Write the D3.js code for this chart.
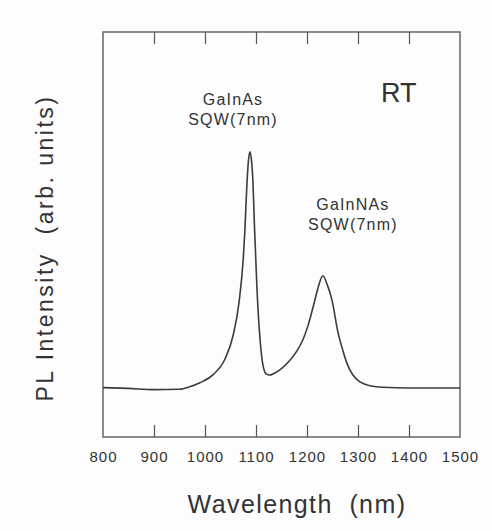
<!DOCTYPE html>
<html>
<head>
<meta charset="utf-8">
<script src="https://cdn.jsdelivr.net/npm/d3@7"></script>
<style>
  html, body { margin: 0; padding: 0; background: #fcfdfc; }
  svg { display: block; }
  text { font-family: "Liberation Sans", Arial, Helvetica, sans-serif; fill: #333; white-space: pre; }
</style>
</head>
<body>
<script>
// ---- data ----
const wavelength = [800, 850, 900, 950, 970, 990, 1016, 1039, 1055, 1067, 1075, 1078, 1082, 1085, 1088, 1091, 1094, 1097, 1102, 1108, 1114, 1120, 1127, 1135, 1150, 1167, 1180, 1192, 1202, 1212, 1222, 1231, 1240, 1249, 1261, 1270, 1278, 1290, 1304, 1320, 1349, 1400, 1450, 1500];
const intensity  = [12.2, 12.0, 11.7, 11.8, 12.4, 13.4, 15.4, 19.2, 25.0, 33.5, 44.0, 50.5, 62.0, 68.0, 70.4, 68.5, 63.0, 52.0, 36.3, 24.0, 17.5, 15.6, 15.3, 15.7, 16.9, 19.0, 21.2, 24.0, 27.5, 32.1, 37.0, 39.8, 37.5, 33.8, 25.7, 21.5, 18.3, 15.3, 13.6, 12.8, 12.3, 12.1, 12.1, 12.1];
const xTicks = [800, 900, 1000, 1100, 1200, 1300, 1400, 1500];
const innerTicks = [900, 1000, 1100, 1200, 1300, 1400];
const peakLabels = [
  { lines: ["GaInAs", "SQW(7nm)"], wl: 1055, y: 82 },
  { lines: ["GaInNAs", "SQW(7nm)"], wl: 1290, y: 56 }
];

const W = 492, H = 531;
const m = { left: 103, right: 32, top: 32, bottom: 94 };
const pw = W - m.left - m.right, ph = H - m.top - m.bottom;

const svg = d3.select("body").append("svg").attr("width", W).attr("height", H);
const g = svg.append("g").attr("transform", `translate(${m.left},${m.top})`);

const x = d3.scaleLinear().domain([800, 1500]).range([0, pw]);
const y = d3.scaleLinear().domain([0, 100]).range([ph, 0]);

// frame
g.append("rect").attr("width", pw).attr("height", ph)
  .attr("fill", "none").attr("stroke", "#666").attr("stroke-width", 1.5);

// bottom axis: inward ticks + labels
const bottomAxis = g.append("g").attr("transform", `translate(0,${ph})`)
  .call(d3.axisBottom(x).tickValues(innerTicks).tickSizeInner(-12).tickSizeOuter(0).tickFormat(""));
bottomAxis.select(".domain").remove();
bottomAxis.selectAll(".tick line").attr("stroke", "#555").attr("stroke-width", 1.2);

const labs = g.append("g").attr("transform", `translate(0,${ph})`)
  .call(d3.axisBottom(x).tickValues(xTicks).tickSize(0).tickFormat(d3.format("d")));
labs.select(".domain").remove();
labs.selectAll(".tick text").attr("y", 25).attr("dy", 0)
  .style("font-size", "15px").style("letter-spacing", "1px").style("fill", "#333");

// top axis: inward ticks
const topAxis = g.append("g")
  .call(d3.axisTop(x).tickValues(innerTicks).tickSizeInner(-12).tickSizeOuter(0).tickFormat(""));
topAxis.select(".domain").remove();
topAxis.selectAll(".tick line").attr("stroke", "#555").attr("stroke-width", 1.2);

// curve
const data = wavelength.map((w, i) => ({ w, v: intensity[i] }));
g.append("path").datum(data)
  .attr("fill", "none").attr("stroke", "#3c3c3c").attr("stroke-width", 1.6)
  .attr("d", d3.line().x(d => x(d.w)).y(d => y(d.v)).curve(d3.curveMonotoneX));

// annotations
peakLabels.forEach(p => {
  const t = g.append("text").attr("text-anchor", "middle")
    .style("font-size", "16px").style("letter-spacing", "1.2px");
  p.lines.forEach((s, i) => {
    t.append("tspan").attr("x", x(p.wl)).attr("y", y(p.y) + i * 20).text(s);
  });
});

g.append("text").attr("x", x(1380)).attr("y", 70).attr("text-anchor", "middle")
  .style("font-size", "27px").text("RT");

// axis titles
svg.append("text").attr("x", 297).attr("y", 513).attr("text-anchor", "middle")
  .style("font-size", "25px").style("letter-spacing", "1.4px").text("Wavelength\u00a0\u00a0(nm)");

svg.append("text").attr("transform", `translate(53,248) rotate(-90)`)
  .attr("text-anchor", "middle")
  .style("font-size", "23px").style("letter-spacing", "2.5px").text("PL Intensity\u00a0\u00a0(arb. units)");
</script>
</body>
</html>
